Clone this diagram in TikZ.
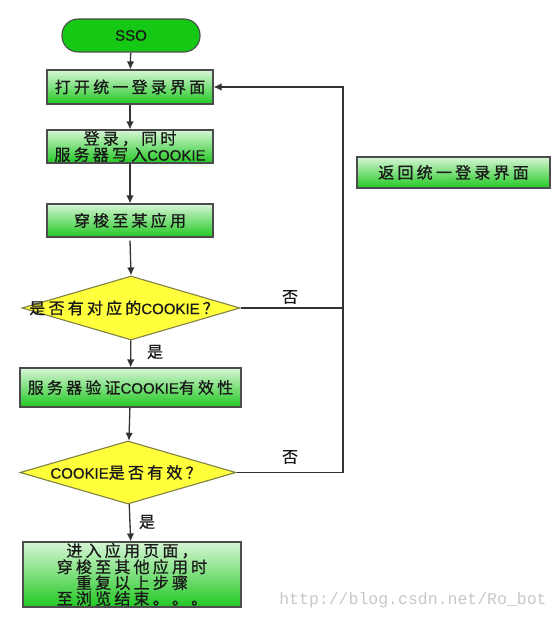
\documentclass[tikz,border=0pt]{standalone}
\usepackage{fontspec}
\setmainfont[LetterSpace=20,FakeBold=0.8]{Noto Sans CJK SC}
\newfontfamily\latin[FakeBold=0.4]{Liberation Sans}
\newfontfamily\urlfont{Liberation Mono}
\usepackage{xcolor}
\usetikzlibrary{shapes.geometric,arrows.meta}

\definecolor{boxtop}{RGB}{214,246,214}
\definecolor{boxbot}{RGB}{34,200,34}
\definecolor{ssogreen}{RGB}{20,200,20}
\definecolor{decyellow}{RGB}{255,255,60}
\definecolor{decline}{RGB}{128,128,70}

\begin{document}
\begin{tikzpicture}[
        x=1pt, y=-1pt,
        font=\fontsize{16}{15}\selectfont,
        every node/.style={text=black!90, inner sep=0pt},
        box/.style={draw=black!70, line width=1.1pt, top color=boxtop, bottom color=boxbot, align=center},
        decision/.style={draw=decline, line width=1.1pt, fill=decyellow, shape=diamond},
        flow/.style={draw=black!80, line width=1.3pt},
        arr/.style={flow, -{Latex[length=8pt,width=7.5pt]}},
    ]
        \useasboundingbox (0,0) rectangle (559,620);
        \node[draw=black!70, line width=1.1pt, fill=ssogreen, rounded corners=16pt, minimum width=138pt, minimum height=33pt, font=\latin\fontsize{15}{15}\selectfont] (n0) at (131,35.5) {SSO};
        \node[box, minimum width=166pt, minimum height=34pt] (n1) at (130,87) {打开统一登录界面};
        \node[box, minimum width=166pt, minimum height=33pt] (n2) at (130,146.5) {登录，同时\\服务器写入{\latin\fontsize{15}{15}\selectfont COOKIE}};
        \node[box, minimum width=166pt, minimum height=33pt] (n3) at (130,220.5) {穿梭至某应用};
        \node[decision, minimum width=218pt, minimum height=64pt] (n4) at (131,308) {};
        \node (n4t) at (124,308) {是否有对应的{\latin\fontsize{15}{15}\selectfont COOKIE}\hspace{3pt}？};
        \node[box, minimum width=221pt, minimum height=39pt] (n5) at (130.5,387.5) {服务器验证{\latin\fontsize{15}{15}\selectfont COOKIE}有效性};
        \node[decision, minimum width=216pt, minimum height=63pt] (n6) at (128,472.5) {};
        \node (n6t) at (126,472.5) {{\latin\fontsize{15}{15}\selectfont COOKIE}是否有效？};
        \node[box, minimum width=218pt, minimum height=65pt, font=\fontsize{16}{13.5}\selectfont] (n7) at (132,574.5) {进入应用页面，\\穿梭至其他应用时\\重复以上步骤\\至浏览结束。。。};
        \node[box, minimum width=193pt, minimum height=31pt] (n8) at (453.5,172.5) {返回统一登录界面};
        % labels
        \node (yes1) at (155,352) {是};
        \node (yes2) at (147,522) {是};
        \node (no1) at (290,297) {否};
        \node (no2) at (290,457) {否};
        \node[text=black!22, font=\urlfont\fontsize{16.5}{18}\selectfont] (wm) at (413,600) {http://blog.csdn.net/Ro\_bot};
        % loop back
        \coordinate (c1) at (343,308);
        \coordinate (c2) at (343,472.5);
        \coordinate (c3) at (343,87);
        \draw[arr] (n0) -- (n1);
        \draw[arr] (n1) -- (n2);
        \draw[arr] (n2) -- (n3);
        \draw[arr] ([yshift=-3pt]n3.south) -- (n4.north);
        \draw[arr] (n4) -- (n5);
        \draw[arr] (n5) -- (n6);
        \draw[arr] (n6) -- (n7);
        \draw[flow] (n4.east) -- (c1);
        \draw[arr] (n6.east) -- (c2) -- (c3) -- (n1.east);
    \end{tikzpicture}
\end{document}
